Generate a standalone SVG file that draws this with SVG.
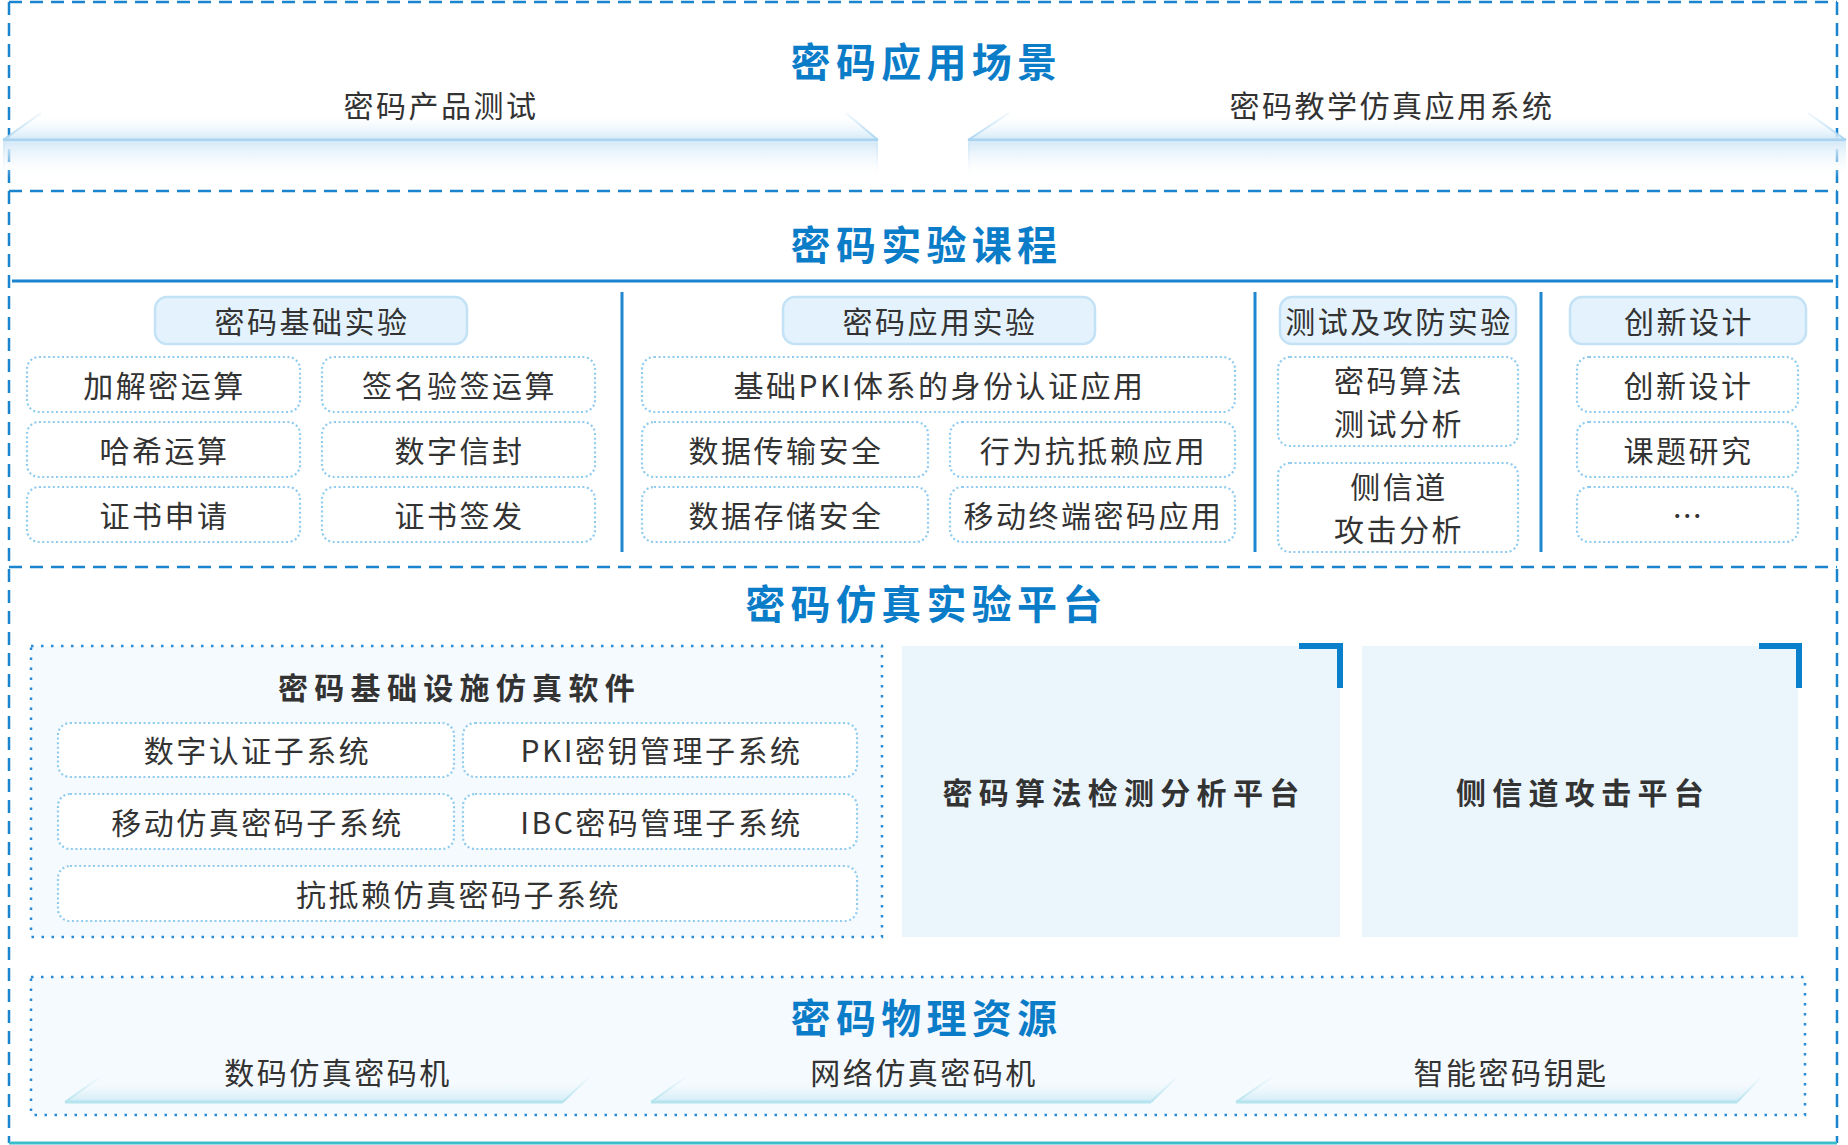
<svg xmlns="http://www.w3.org/2000/svg" width="1848" height="1145" viewBox="0 0 1848 1145">
<defs>
<linearGradient id="topFace" x1="0" y1="113" x2="0" y2="140" gradientUnits="userSpaceOnUse">
<stop offset="0" stop-color="#ffffff" stop-opacity="0"/>
<stop offset="1" stop-color="#d2e9f8"/>
</linearGradient>
<linearGradient id="frontFace" x1="0" y1="143" x2="0" y2="178" gradientUnits="userSpaceOnUse">
<stop offset="0" stop-color="#d8ebf8"/>
<stop offset="1" stop-color="#ffffff" stop-opacity="0"/>
</linearGradient>
<linearGradient id="sideEdge" x1="0" y1="113" x2="0" y2="140" gradientUnits="userSpaceOnUse">
<stop offset="0" stop-color="#b7dcf3" stop-opacity="0.2"/>
<stop offset="1" stop-color="#a9d4ef"/>
</linearGradient>
<linearGradient id="frontEdge" x1="0" y1="143" x2="0" y2="178" gradientUnits="userSpaceOnUse">
<stop offset="0" stop-color="#cfe6f6"/>
<stop offset="1" stop-color="#ffffff" stop-opacity="0"/>
</linearGradient>
<linearGradient id="padFace" x1="0" y1="1077" x2="0" y2="1102" gradientUnits="userSpaceOnUse">
<stop offset="0" stop-color="#ffffff" stop-opacity="0"/>
<stop offset="1" stop-color="#cdebf5"/>
</linearGradient>
<linearGradient id="padEdge" x1="0" y1="1077" x2="0" y2="1102" gradientUnits="userSpaceOnUse">
<stop offset="0" stop-color="#c2e8f1" stop-opacity="0.1"/>
<stop offset="1" stop-color="#b5e3ee"/>
</linearGradient>
<style>
.title{font-family:"Noto Sans CJK SC","Noto Sans",sans-serif;font-size:40px;font-weight:700;fill:#0b7cc8;letter-spacing:5.3px;text-anchor:middle;dominant-baseline:central}
.t{font-family:"Noto Sans CJK SC","Noto Sans",sans-serif;font-size:30px;fill:#333333;letter-spacing:2.5px;text-anchor:middle;dominant-baseline:central}
.tb{font-family:"Noto Sans CJK SC","Noto Sans",sans-serif;font-size:30px;font-weight:700;fill:#333333;letter-spacing:6.3px;text-anchor:middle;dominant-baseline:central}
.pill{fill:#e3f2fc;stroke:#c3e2f6;stroke-width:2.5}
.item{fill:#ffffff;stroke:#8ecbef;stroke-width:2.2;stroke-dasharray:2 2.6}
.dotbox{fill:#f5fafe;stroke:#2a8ad3;stroke-width:2.5;stroke-dasharray:2.5 7.5}
.dash{stroke:#1a84cf;stroke-width:2.5;stroke-dasharray:13 8;fill:none}
.div{stroke:#1f86d0;stroke-width:3}
.plat{fill:#eaf5fc}
.bracket{fill:none;stroke:#0a7fcb;stroke-width:6}
.face{fill:url(#topFace)}
.front{fill:url(#frontFace)}
.side{stroke:url(#sideEdge);stroke-width:2;fill:none}
.base{stroke:#a9d3ef;stroke-width:3}
.pad{fill:url(#padFace)}
.padside{stroke:url(#padEdge);stroke-width:2;fill:none}
.padbase{stroke:#b5e3ee;stroke-width:3}
</style>
</defs>

<g id="frame">
<line class="dash" x1="9" y1="2" x2="1837" y2="2"/>
<line class="dash" x1="9" y1="2" x2="9" y2="1143"/>
<line class="dash" x1="1837" y1="2" x2="1837" y2="1143"/>
<line class="dash" x1="9" y1="191" x2="1837" y2="191"/>
<line class="dash" x1="9" y1="567" x2="1837" y2="567"/>
<line x1="9" y1="1143" x2="1837" y2="1143" stroke="#3dbccc" stroke-width="3"/>
</g>

<g id="scene">
<text class="title" x="926.5" y="60">密码应用场景</text>
<g id="scene-test">
<polygon class="face" points="41,113 846,113 878,140 3,140"/>
<polyline class="side" points="41,113 3,140"/>
<polyline class="side" points="846,113 878,140"/>
<line class="base" x1="3" y1="140" x2="878" y2="140"/>
<rect class="front" x="3" y="142" width="875" height="36"/>
<line x1="4" y1="143" x2="4" y2="178" stroke="url(#frontEdge)" stroke-width="2"/>
<line x1="877" y1="143" x2="877" y2="178" stroke="url(#frontEdge)" stroke-width="2"/>
<text class="t" x="441" y="104">密码产品测试</text>
</g>
<g id="scene-teach">
<polygon class="face" points="1009,113 1808,113 1846,140 968,140"/>
<polyline class="side" points="1009,113 968,140"/>
<polyline class="side" points="1808,113 1846,140"/>
<line class="base" x1="968" y1="140" x2="1846" y2="140"/>
<rect class="front" x="968" y="142" width="878" height="36"/>
<line x1="969" y1="143" x2="969" y2="178" stroke="url(#frontEdge)" stroke-width="2"/>
<text class="t" x="1392" y="104">密码教学仿真应用系统</text>
</g>
</g>

<g id="course">
<text class="title" x="926.5" y="243">密码实验课程</text>
<g id="connectors">
<line x1="12" y1="281" x2="1833" y2="281" stroke="#1a84cf" stroke-width="3"/>
<line class="div" x1="622" y1="292" x2="622" y2="552"/>
<line class="div" x1="1255" y1="292" x2="1255" y2="552"/>
<line class="div" x1="1541" y1="292" x2="1541" y2="552"/>
</g>
<g id="col-basic">
<rect class="pill" x="155" y="297" width="312" height="47" rx="12"/>
<text class="t" x="312" y="319.5">密码基础实验</text>
<rect class="item" x="27" y="357" width="273" height="55" rx="12"/>
<text class="t" x="164.5" y="383.5">加解密运算</text>
<rect class="item" x="322" y="357" width="273" height="55" rx="12"/>
<text class="t" x="459.5" y="383.5">签名验签运算</text>
<rect class="item" x="27" y="422" width="273" height="55" rx="12"/>
<text class="t" x="164.5" y="448.5">哈希运算</text>
<rect class="item" x="322" y="422" width="273" height="55" rx="12"/>
<text class="t" x="459.5" y="448.5">数字信封</text>
<rect class="item" x="27" y="487" width="273" height="55" rx="12"/>
<text class="t" x="164.5" y="513.5">证书申请</text>
<rect class="item" x="322" y="487" width="273" height="55" rx="12"/>
<text class="t" x="459.5" y="513.5">证书签发</text>
</g>
<g id="col-app">
<rect class="pill" x="783" y="297" width="312" height="47" rx="12"/>
<text class="t" x="940" y="319.5">密码应用实验</text>
<rect class="item" x="642" y="357" width="593" height="55" rx="12"/>
<text class="t" x="939.5" y="383.5">基础PKI体系的身份认证应用</text>
<rect class="item" x="642" y="422" width="286" height="55" rx="12"/>
<text class="t" x="786" y="448.5">数据传输安全</text>
<rect class="item" x="950" y="422" width="285" height="55" rx="12"/>
<text class="t" x="1093.5" y="448.5">行为抗抵赖应用</text>
<rect class="item" x="642" y="487" width="286" height="55" rx="12"/>
<text class="t" x="786" y="513.5">数据存储安全</text>
<rect class="item" x="950" y="487" width="285" height="55" rx="12"/>
<text class="t" x="1093.5" y="513.5">移动终端密码应用</text>
</g>
<g id="col-attack">
<rect class="pill" x="1280" y="297" width="236" height="47" rx="12"/>
<text class="t" x="1399" y="319.5">测试及攻防实验</text>
<rect class="item" x="1278" y="357" width="240" height="89" rx="12"/>
<text class="t" x="1399" y="379">密码算法</text>
<text class="t" x="1399" y="422">测试分析</text>
<rect class="item" x="1278" y="463" width="240" height="89" rx="12"/>
<text class="t" x="1399" y="485">侧信道</text>
<text class="t" x="1399" y="528">攻击分析</text>
</g>
<g id="col-innov">
<rect class="pill" x="1570" y="297" width="236" height="47" rx="12"/>
<text class="t" x="1689" y="319.5">创新设计</text>
<rect class="item" x="1577" y="357" width="221" height="55" rx="12"/>
<text class="t" x="1688.5" y="383.5">创新设计</text>
<rect class="item" x="1577" y="422" width="221" height="55" rx="12"/>
<text class="t" x="1688.5" y="448.5">课题研究</text>
<rect class="item" x="1577" y="487" width="221" height="55" rx="12"/>
<text class="t" x="1688.5" y="513.5">…</text>
</g>
</g>

<g id="platform">
<text class="title" x="926.5" y="602">密码仿真实验平台</text>
<g id="infra-software">
<rect class="dotbox" x="31" y="646" width="851" height="291"/>
<text class="tb" x="459.5" y="686">密码基础设施仿真软件</text>
<rect class="item" x="58" y="723" width="396" height="54" rx="12"/>
<text class="t" x="257.5" y="749">数字认证子系统</text>
<rect class="item" x="463" y="723" width="394" height="54" rx="12"/>
<text class="t" x="661.5" y="749">PKI密钥管理子系统</text>
<rect class="item" x="58" y="794" width="396" height="55" rx="12"/>
<text class="t" x="257.5" y="820.5">移动仿真密码子系统</text>
<rect class="item" x="463" y="794" width="394" height="55" rx="12"/>
<text class="t" x="661.5" y="820.5">IBC密码管理子系统</text>
<rect class="item" x="58" y="866" width="799" height="55" rx="12"/>
<text class="t" x="458.5" y="892.5">抗抵赖仿真密码子系统</text>
</g>
<g id="algo-platform">
<rect class="plat" x="902" y="646" width="438" height="291"/>
<polyline class="bracket" points="1299,646 1340,646 1340,688"/>
<text class="tb" x="1124" y="791">密码算法检测分析平台</text>
</g>
<g id="side-channel-platform">
<rect class="plat" x="1362" y="646" width="436" height="291"/>
<polyline class="bracket" points="1759,646 1799,646 1799,688"/>
<text class="tb" x="1583" y="791">侧信道攻击平台</text>
</g>
</g>

<g id="physical">
<rect class="dotbox" x="31" y="977" width="1774" height="138"/>
<text class="title" x="926.5" y="1016">密码物理资源</text>
<g id="phys-1">
<polygon class="pad" points="100,1077 589,1077 563,1102 65,1102"/>
<polyline class="padside" points="100,1077 65,1102"/>
<polyline class="padside" points="589,1077 563,1102"/>
<line class="padbase" x1="65" y1="1102" x2="563" y2="1102"/>
<text class="t" x="338" y="1071">数码仿真密码机</text>
</g>
<g id="phys-2">
<polygon class="pad" points="686,1077 1177,1077 1151,1102 651,1102"/>
<polyline class="padside" points="686,1077 651,1102"/>
<polyline class="padside" points="1177,1077 1151,1102"/>
<line class="padbase" x1="651" y1="1102" x2="1151" y2="1102"/>
<text class="t" x="924" y="1071">网络仿真密码机</text>
</g>
<g id="phys-3">
<polygon class="pad" points="1272,1077 1761,1077 1737,1102 1236,1102"/>
<polyline class="padside" points="1272,1077 1236,1102"/>
<polyline class="padside" points="1761,1077 1737,1102"/>
<line class="padbase" x1="1236" y1="1102" x2="1737" y2="1102"/>
<text class="t" x="1511" y="1071">智能密码钥匙</text>
</g>
</g>
</svg>
